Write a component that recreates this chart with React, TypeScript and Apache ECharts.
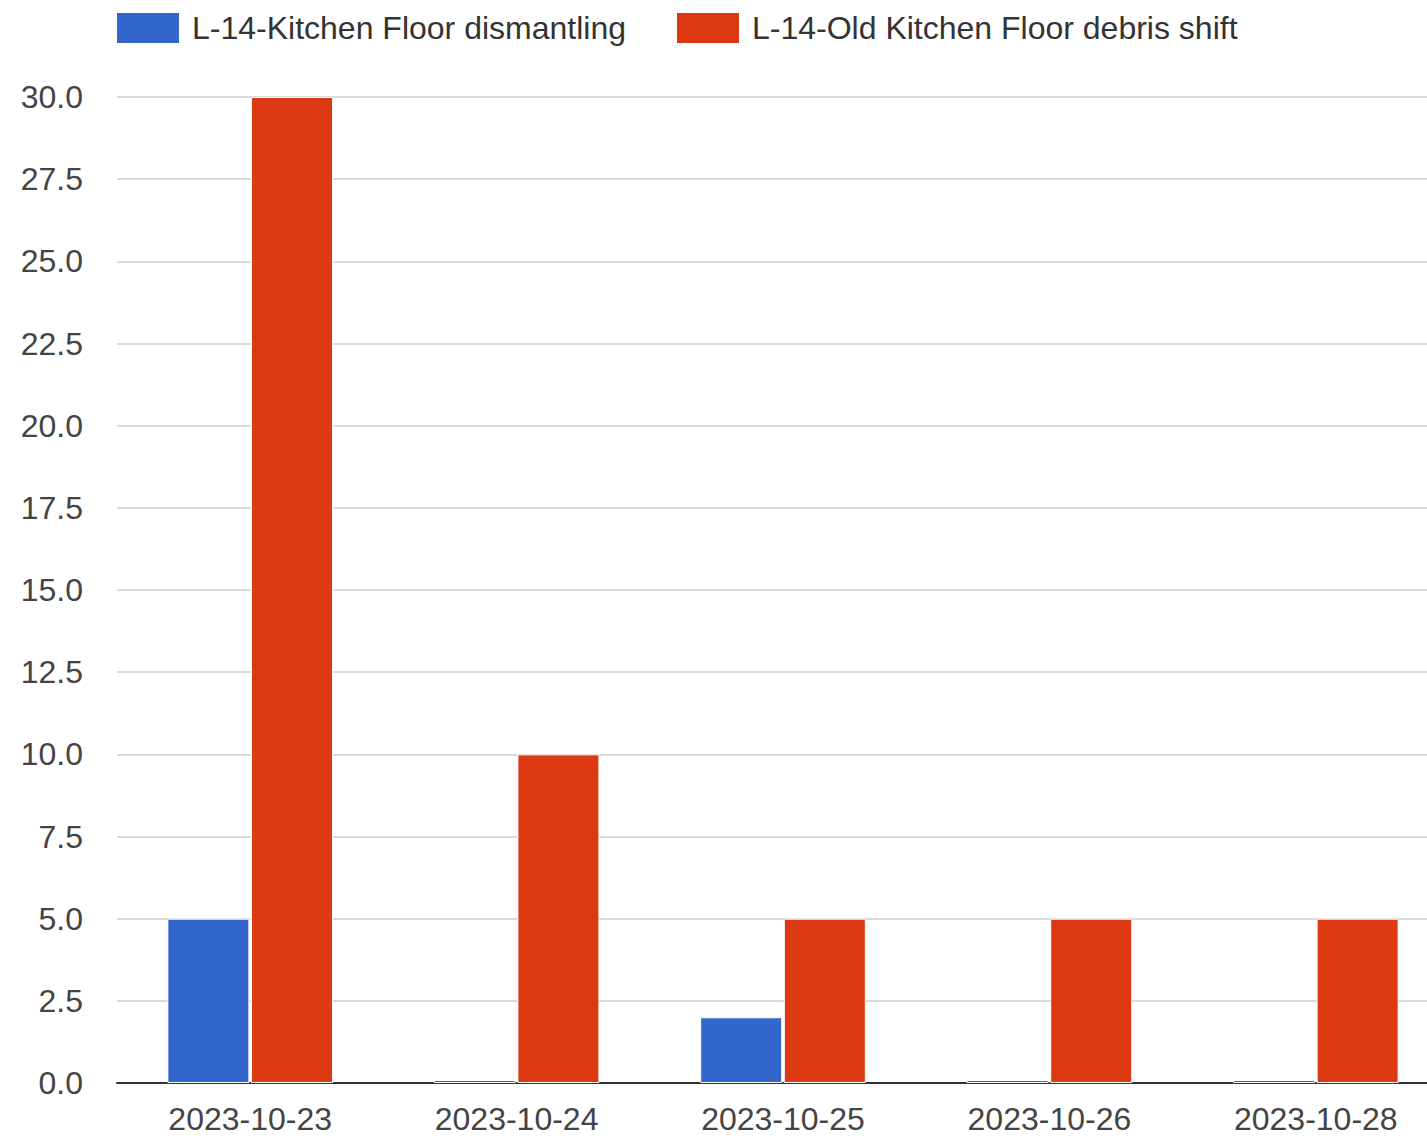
import React, { useEffect, useRef } from "react";
import * as echarts from "echarts";

const categories = ["2023-10-23", "2023-10-24", "2023-10-25", "2023-10-26", "2023-10-28"];
const dismantling = [5, 0, 2, 0, 0];
const debrisShift = [30, 10, 5, 5, 5];
const seriesNames = ["L-14-Kitchen Floor dismantling", "L-14-Old Kitchen Floor debris shift"];

const FONT = "Arial, 'Liberation Sans', sans-serif";

export default function App() {
  const ref = useRef<HTMLDivElement>(null);
  useEffect(() => {
    document.body.style.margin = "0";
    document.body.style.overflow = "hidden";
    const chart = echarts.init(ref.current!, null, { renderer: "svg" });
    chart.setOption({
      animation: false,
      color: ["#3366cc", "#dc3912"],
      legend: {
        left: 115,
        top: 11,
        padding: 0,
        itemWidth: 64,
        itemHeight: 32,
        itemGap: 49,
        icon: "rect",
        textStyle: { fontSize: 32, color: "#333", fontFamily: FONT, padding: [0, 0, 0, 7] },
        data: seriesNames,
      },
      grid: { left: 117, right: 0, top: 97, bottom: 59, containLabel: false },
      xAxis: {
        type: "category",
        data: categories,
        axisTick: { show: false },
        axisLine: { lineStyle: { color: "#333", width: 2 } },
        axisLabel: { fontSize: 32, color: "#444", fontFamily: FONT, margin: 20 },
      },
      yAxis: {
        type: "value",
        min: 0,
        max: 30,
        interval: 2.5,
        axisLine: { show: false },
        axisTick: { show: false },
        splitLine: { lineStyle: { color: "#cccccc", width: 1.5 } },
        axisLabel: {
          fontSize: 32,
          color: "#444",
          fontFamily: FONT,
          margin: 34,
          formatter: (v: number) => v.toFixed(1),
        },
      },
      series: [
        {
          name: seriesNames[0],
          type: "bar",
          data: dismantling,
          barWidth: 82,
          barGap: "2%",
          barMinHeight: 3,
          itemStyle: { borderColor: "#ffffff", borderWidth: 1 },
        },
        {
          name: seriesNames[1],
          type: "bar",
          data: debrisShift,
          barWidth: 82,
          barGap: "2%",
          itemStyle: { borderColor: "#ffffff", borderWidth: 1 },
        },
      ],
    });
    return () => chart.dispose();
  }, []);
  return <div ref={ref} style={{ width: 1449, height: 1142 }} />;
}
